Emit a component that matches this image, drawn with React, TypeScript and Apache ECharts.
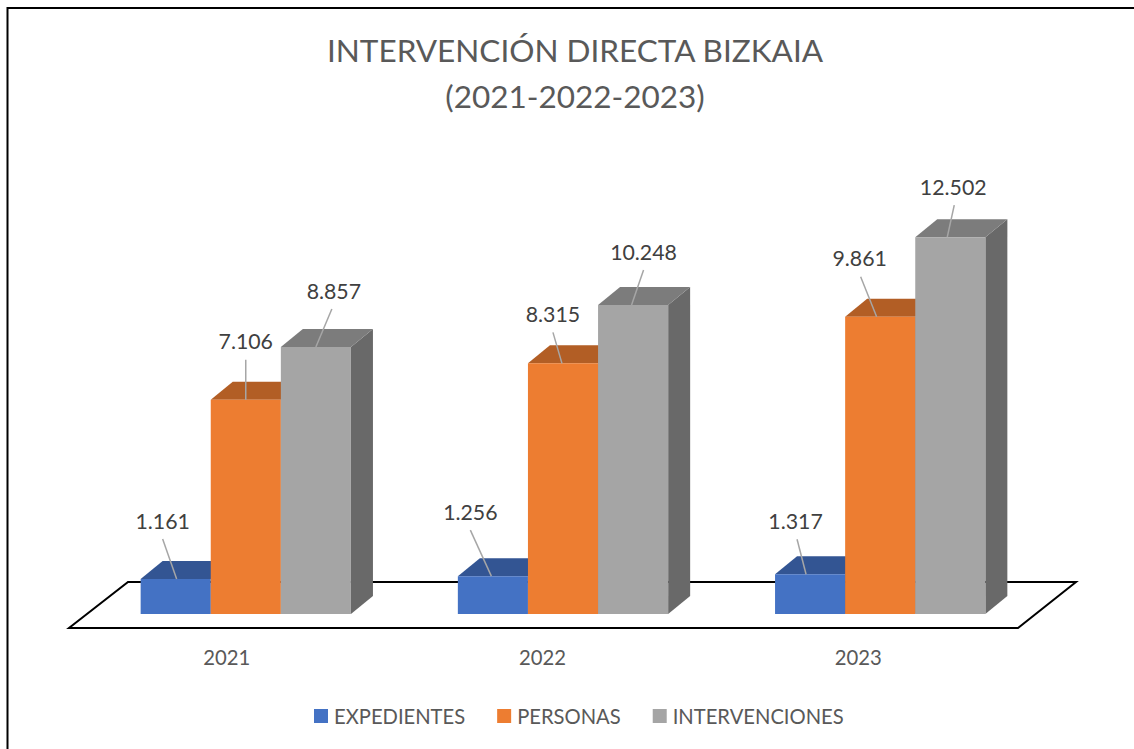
import React, { useEffect, useRef } from "react";
import * as echarts from "echarts";

const categories = ["2021", "2022", "2023"];
const seriesNames = ["EXPEDIENTES", "PERSONAS", "INTERVENCIONES"];
const expedientes = [1161, 1256, 1317];
const personas = [7106, 8315, 9861];
const intervenciones = [8857, 10248, 12502];
const seriesValues = [expedientes, personas, intervenciones];

const titleLines = "INTERVENCIÓN DIRECTA BIZKAIA\n(2021-2022-2023)";

// Styles and layout
const FONT = "Lato, 'Open Sans', sans-serif";
const frontColors = ["#4472C4", "#ED7D31", "#A5A5A5"];
const topColors = ["#335593", "#B25E25", "#7C7C7C"];
const sideColors = ["#2A4A85", "#9A5020", "#696969"];
const BAR_W = 70.1;
const DEPTH_X = 22;
const DEPTH_Y = 18;
// leader line per [series][category]: anchor x on the bar's front top edge, start dx, start dy, text dx
const leaders = [
  [[36, 22, -40, 0], [33.5, 12.5, -46, 0], [31, 22, -35, -1.5]],
  [[35, 35, -40, 0], [34, 25, -31, 0], [31.5, 15.5, -40, -1]],
  [[35, 51, -38, 2], [33.5, 45.5, -35, 0], [32, 39, -32, -1]],
];

const fmt = (v: number) => String(v).replace(/\B(?=(\d{3})+$)/g, ".");

function App() {
  const ref = useRef<HTMLDivElement | null>(null);
  useEffect(() => {
    const chart = echarts.init(ref.current!, undefined, { renderer: "svg" });
    const series: any[] = seriesNames.map((name, s) => ({
      type: "custom",
      name,
      xAxisIndex: 0,
      yAxisIndex: 0,
      z: 5 + s,
      clip: false,
      itemStyle: { color: frontColors[s] },
      data: seriesValues[s].map((v, i) => [categories[i], v]),
      renderItem: (_p: any, api: any) => {
        const cat = api.value(0);
        const val = api.value(1);
        const [cx, yTop] = api.coord([cat, val]);
        const [, y0] = api.coord([cat, 0]);
        const xL = cx + (s - 1.5) * BAR_W;
        const xR = xL + BAR_W;
        const [ax, sx, sy, tx] = leaders[s][cat];
        return {
          type: "group",
          children: [
            { type: "polygon", shape: { points: [[xR, y0], [xR + DEPTH_X, y0 - DEPTH_Y], [xR + DEPTH_X, yTop - DEPTH_Y], [xR, yTop]] }, style: { fill: sideColors[s] } },
            { type: "polygon", shape: { points: [[xL, yTop], [xL + DEPTH_X, yTop - DEPTH_Y], [xR + DEPTH_X, yTop - DEPTH_Y], [xR, yTop]] }, style: { fill: topColors[s] } },
            { type: "rect", shape: { x: xL, y: yTop, width: BAR_W, height: y0 - yTop }, style: { fill: frontColors[s] } },
            { type: "line", shape: { x1: xL + sx, y1: yTop + sy, x2: xL + ax, y2: yTop }, style: { stroke: "#A6A6A6", lineWidth: 1.5 } },
            { type: "text", style: { text: fmt(val), x: xL + sx + tx, y: yTop + sy - 18.5, align: "center", verticalAlign: "middle", fill: "#404040", font: `21.3px ${FONT}` } },
          ],
        };
      },
    }));
    chart.setOption({
      animation: false,
      backgroundColor: "#FFFFFF",
      title: {
        text: titleLines,
        left: 570,
        top: 22,
        textAlign: "center",
        textStyle: { color: "#595959", fontFamily: FONT, fontSize: 31.5, fontWeight: "normal", lineHeight: 46 },
      },
      legend: {
        data: seriesNames,
        left: 309,
        top: 701,
        icon: "rect",
        itemWidth: 14,
        itemHeight: 14,
        itemGap: 32,
        textStyle: { color: "#595959", fontFamily: FONT, fontSize: 20.2, padding: [0, 0, 0, 1] },
      },
      grid: [
        { left: 87.2, width: 951.6, top: 192, height: 422 },
        { left: 69, width: 947, top: 192, height: 436 },
      ],
      xAxis: [
        { type: "category", gridIndex: 0, data: categories, show: false },
        {
          type: "category",
          gridIndex: 1,
          data: categories,
          axisLine: { show: false },
          axisTick: { show: false },
          axisLabel: { color: "#595959", fontFamily: FONT, fontSize: 20.3, margin: 19 },
        },
      ],
      yAxis: [
        { type: "value", gridIndex: 0, min: 0, max: 14000, show: false },
        { type: "value", gridIndex: 1, min: 0, max: 14000, show: false },
      ],
      graphic: [
        { type: "polyline", z: 1, shape: { points: [[7.5, 749], [7.5, 8], [1134, 8]] }, style: { fill: "none", stroke: "#000000", lineWidth: 2 } },
        { type: "polygon", z: 1, shape: { points: [[69, 628], [1018, 628], [1076, 582], [128, 582]] }, style: { fill: "#FFFFFF", stroke: "#000000", lineWidth: 2 } },
      ],
      series,
    });
    return () => chart.dispose();
  }, []);
  return <div ref={ref} style={{ position: "fixed", left: 0, top: 0, width: 1134, height: 749 }} />;
}

export default App;
